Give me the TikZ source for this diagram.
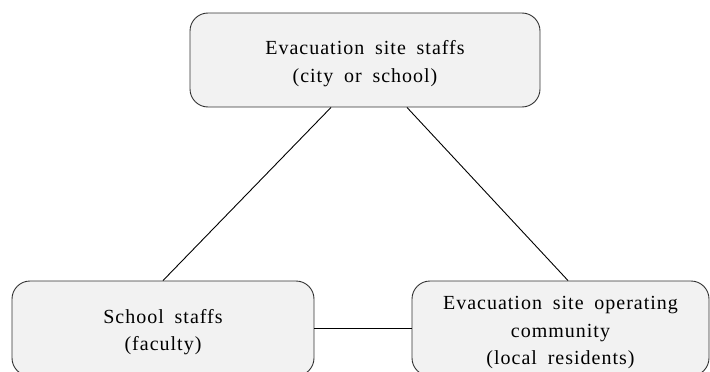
\documentclass[tikz,border=0pt]{standalone}
\usepackage{fontspec}
\setmainfont{Liberation Serif}[LetterSpace=5,WordSpace=1.8]
\usepackage{xcolor}
\usepackage{tikz}

\newcommand{\toppad}{\rule{0pt}{21.5pt}}

\begin{document}
\begin{tikzpicture}[x=1pt, y=-1pt]
                \tikzstyle{party} = [rectangle, rounded corners=18pt, draw=black!80, fill=black!5, line width=0.9pt, text centered, align=center, font=\fontsize{20}{27.5}\selectfont, inner sep=0pt]
                \tikzstyle{link} = [line width=0.9pt]
                
                \useasboundingbox (0,0) rectangle (710,372);
                \clip (0,0) rectangle (710,372);
                
                \node (staff) [party, minimum width=350pt, minimum height=94pt] at (365,60) {\toppad Evacuation site staffs\\(city or school)};
                \node (school) [party, minimum width=302pt, minimum height=95pt] at (163,328.5) {\toppad School staffs\\(faculty)};
                \node (community) [party, minimum width=297pt, minimum height=95pt] at (560.5,328.5) {\toppad Evacuation site operating\\community\\(local residents)};
                
                \draw [link] ([xshift=-34pt]staff.south) -- (school.north);
                \draw [link] ([xshift=42pt]staff.south) -- ([xshift=7.5pt]community.north);
                \draw [link] (school.east) -- (community.west);
            \end{tikzpicture}
\end{document}
